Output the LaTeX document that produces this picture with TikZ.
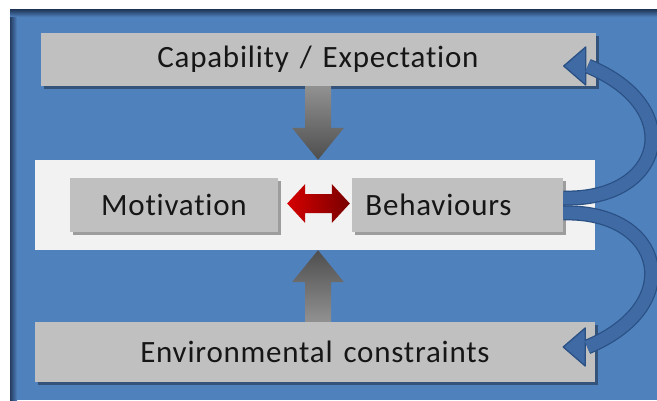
\documentclass[tikz,border=0pt]{standalone}
\usepackage{fontspec}
\setmainfont{Carlito}[Ligatures=NoCommon, LetterSpace=2.5, WordSpace=1.4]
\usetikzlibrary{calc, shadows}

\definecolor{bgblue}{RGB}{79,129,189}
\definecolor{bgshadow}{RGB}{36,60,96}
\definecolor{boxgray}{RGB}{192,192,192}
\definecolor{bandwhite}{RGB}{242,242,242}
\definecolor{arrowlight}{RGB}{145,145,145}
\definecolor{arrowdark}{RGB}{78,78,78}
\definecolor{linkred}{RGB}{214,0,0}
\definecolor{linkdark}{RGB}{120,0,0}
\definecolor{loopfill}{RGB}{64,106,164}
\definecolor{loopedge}{RGB}{42,80,132}
\definecolor{textdark}{RGB}{22,22,22}

\begin{document}
\begin{tikzpicture}[
    x=1pt, y=1pt,
    factor/.style={rectangle, fill=boxgray, text=textdark, inner sep=0pt,
        font=\fontsize{31}{36}\selectfont,
        drop shadow={shadow xshift=3pt, shadow yshift=-3pt, fill=black, opacity=0.35}},
    loopouter/.style={draw=loopedge, line width=15pt},
    loopinner/.style={draw=loopfill, line width=12.5pt},
    loophead/.style={fill=loopfill, draw=loopedge, line width=1.3pt, line join=round}
]
\useasboundingbox (0,0) rectangle (657,400);

% background panel with its inner shadow
\fill[white] (0,0) rectangle (657,400);
\fill[bgblue] (10,0) rectangle (657,390);
\shade[left color=bgshadow, right color=bgblue] (10,0) rectangle (17,390);
\shade[top color=bgshadow, bottom color=bgblue] (10,383) rectangle (657,390);

% boxes
\node[factor, minimum width=555, minimum height=53] (cap) at (318,340.5) {Capability / Expectation};
\node[fill=bandwhite, minimum width=560, minimum height=90] (band) at (315,195) {};
\node[factor, minimum width=208, minimum height=54] (motiv) at (174,195) {Motivation};
\node[factor, minimum width=211, minimum height=54] (behav) at (457.5,195) {Behaviours\kern38pt};
\node[factor, minimum width=560, minimum height=60] (env) at (315,48) {Environmental constraints};

% grey block arrows into the band
\shade[top color=arrowlight, bottom color=arrowdark]
    ($(cap.south)+(-13,0)$) -- ($(cap.south |- band.north)+(-13,32)$)
    -- ($(cap.south |- band.north)+(-26,32)$) -- (cap.south |- band.north)
    -- ($(cap.south |- band.north)+(26,32)$) -- ($(cap.south |- band.north)+(13,32)$)
    -- ($(cap.south)+(13,0)$) -- cycle;
\shade[bottom color=arrowlight, top color=arrowdark]
    ($(cap.south |- env.north)+(-13,0)$) -- ($(cap.south |- band.south)+(-13,-32)$)
    -- ($(cap.south |- band.south)+(-26,-32)$) -- (cap.south |- band.south)
    -- ($(cap.south |- band.south)+(26,-32)$) -- ($(cap.south |- band.south)+(13,-32)$)
    -- ($(cap.south |- env.north)+(13,0)$) -- cycle;

% red two-way arrow
\coordinate (lt) at ($(motiv.east)+(9,1.5)$);
\coordinate (rt) at ($(behav.west)+(-2,1.5)$);
\shade[left color=linkred, right color=linkdark]
    (lt) -- ($(lt)+(18,19.5)$) -- ($(lt)+(18,9.5)$) -- ($(rt)+(-18,9.5)$)
    -- ($(rt)+(-18,19.5)$) -- (rt) -- ($(rt)+(-18,-19.5)$) -- ($(rt)+(-18,-9.5)$)
    -- ($(lt)+(18,-9.5)$) -- ($(lt)+(18,-19.5)$) -- cycle;

% feedback loops from behaviours
\coordinate (uptip) at ($(cap.east)+(-32,-6.5)$);
\coordinate (downtip) at ($(env.east)+(-32,5)$);
\draw[loopouter] ($(behav.east)+(0,7)$) .. controls ($(behav.east)+(100,4)$) and ($(uptip)+(125,-42)$) .. ($(uptip)+(24,0)$);
\draw[loopouter] ($(behav.east)+(0,-8)$) .. controls ($(behav.east)+(100,-5)$) and ($(downtip)+(125,42)$) .. ($(downtip)+(24,0)$);
\filldraw[loophead] (uptip) -- ($(uptip)+(22,19)$) -- ($(uptip)+(22,-19)$) -- cycle;
\filldraw[loophead] (downtip) -- ($(downtip)+(22,19)$) -- ($(downtip)+(22,-19)$) -- cycle;
\draw[loopinner] ($(behav.east)+(0,7)$) .. controls ($(behav.east)+(100,4)$) and ($(uptip)+(125,-42)$) .. ($(uptip)+(24,0)$);
\draw[loopinner] ($(behav.east)+(0,-8)$) .. controls ($(behav.east)+(100,-5)$) and ($(downtip)+(125,42)$) .. ($(downtip)+(24,0)$);

\end{tikzpicture}
\end{document}
